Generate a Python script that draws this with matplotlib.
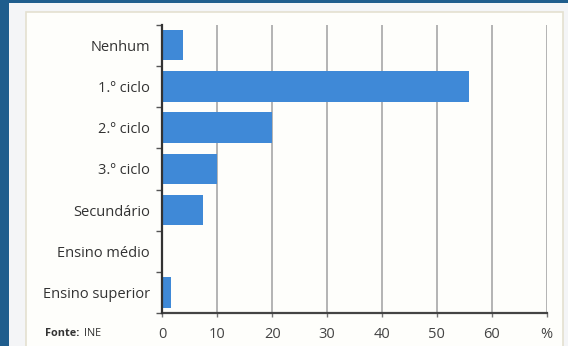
import matplotlib

matplotlib.use("Agg")
import matplotlib.pyplot as plt
from matplotlib.patches import Rectangle

categories = ["Nenhum", "1.º ciclo", "2.º ciclo", "3.º ciclo", "Secundário",
              "Ensino médio", "Ensino superior"]
values = [3.8, 55.8, 20.0, 10.0, 7.5, 0.0, 1.5]
x_ticks = [0, 10, 20, 30, 40, 50, 60, 70]
x_labels = ["0", "10", "20", "30", "40", "50", "60", "%"]

W, H = 568, 346
plt.rcParams["font.family"] = ["Open Sans", "DejaVu Sans"]

fig = plt.figure(figsize=(W / 100, H / 100), dpi=100)
fig.patch.set_facecolor("#1f5d8d")


def px_rect(x0, y0, x1, y1, **kw):
    # rectangle given in pixel coords from the top-left corner
    return Rectangle((x0 / W, 1 - y1 / H), (x1 - x0) / W, (y1 - y0) / H,
                     transform=fig.transFigure, zorder=-10, **kw)


fig.patches.append(px_rect(9, 3, W, H, facecolor="#f4f5f7", edgecolor="none"))
fig.patches.append(px_rect(26, 12, 563, H + 2, facecolor="#fefefb",
                           edgecolor="#e4e0d0", linewidth=1.2))

left, right = 162.3 / W, 546.7 / W
bottom, top = 1 - 313.3 / H, 1 - 24.6 / H
ax = fig.add_axes([left, bottom, right - left, top - bottom])
ax.set_facecolor("none")
ax.set_zorder(5)

n = len(categories)
ypos = list(range(n))
ax.barh(ypos, values, height=0.74, color="#3f89d7", zorder=3)
ax.set_xlim(0, 70)
ax.set_ylim(n - 0.5, -0.5)

ax.set_xticks(x_ticks)
ax.set_xticklabels(x_labels)
ax.set_yticks(ypos)
ax.set_yticklabels(categories)
ax.set_yticks([i - 0.5 for i in range(n + 1)], minor=True)

ax.tick_params(axis="y", which="major", length=0, pad=9, labelsize=10.5,
               labelcolor="#333333")
ax.tick_params(axis="y", which="minor", length=4, width=1, color="#555555",
               direction="out")
ax.tick_params(axis="x", length=3, width=1, color="#777777", pad=7,
               labelsize=10.5, labelcolor="#444444")

ax.grid(axis="x", color="#a0a0a0", linewidth=1.1, zorder=1)
for side in ("top", "right"):
    ax.spines[side].set_visible(False)
ax.spines["left"].set_color("#333333")
ax.spines["left"].set_linewidth(1.6)
ax.spines["bottom"].set_color("#444444")
ax.spines["bottom"].set_linewidth(1.6)
ax.spines["left"].set_zorder(4)

fig.text(45 / W, 1 - 333 / H, "Fonte:", fontsize=7.8, fontweight="bold",
         color="#333333", va="center", ha="left")
fig.text(84 / W, 1 - 333 / H, "INE", fontsize=7.8, color="#333333",
         va="center", ha="left")

fig.savefig("out.png", dpi=100, facecolor=fig.get_facecolor())
